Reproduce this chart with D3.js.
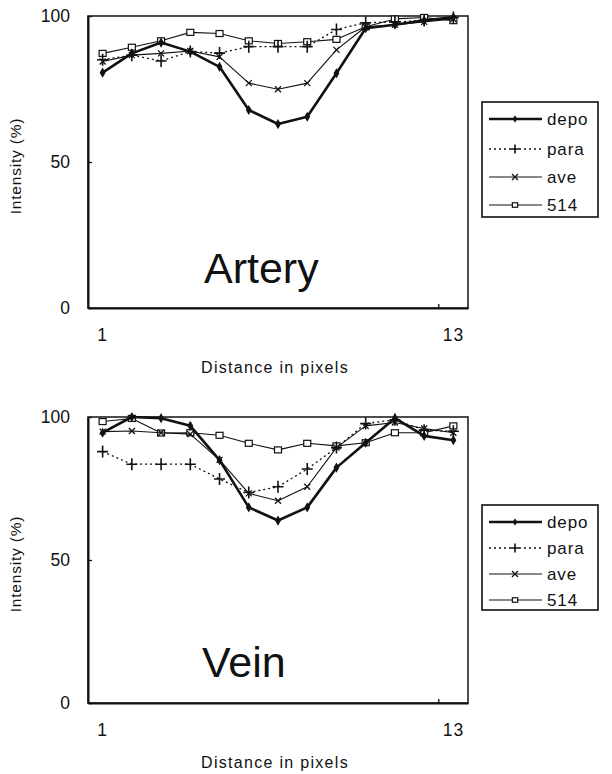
<!DOCTYPE html>
<html><head><meta charset="utf-8">
<script src="https://cdn.jsdelivr.net/npm/d3@7"></script>
<style>body{margin:0;background:#fff}svg{display:block}text{font-family:"Liberation Sans",Arial,sans-serif;fill:#111}</style>
</head><body><svg id="c" width="612" height="774"></svg>
<script>
const categories = [1,2,3,4,5,6,7,8,9,10,11,12,13];
const xTickLabels = ["1","13"];
const yTicks = [0,50,100];
const seriesNames = ["depo","para","ave","514"];

const arteryDepo = [80.6,87.2,90.9,87.8,82.6,67.8,63.0,65.5,80.4,95.8,97.0,98.5,99.6];
const arteryPara = [85.0,86.6,84.6,87.8,87.3,89.5,89.5,89.5,95.4,97.7,98.0,98.5,99.5];
const arteryAve  = [84.4,86.6,87.2,88.0,86.0,77.0,74.9,77.0,88.4,96.3,97.0,98.0,99.0];
const artery514  = [87.2,89.3,91.5,94.4,94.0,91.5,90.6,91.2,92.0,96.3,99.0,99.5,98.4];

const veinDepo = [94.5,100,99.6,96.9,84.9,68.4,63.8,68.4,82.3,91.0,99.6,93.4,91.9];
const veinPara = [87.9,83.5,83.5,83.5,78.3,73.6,75.6,81.8,89.3,97.7,99.0,95.4,95.0];
const veinAve  = [94.9,95.1,94.5,94.0,85.0,73.3,70.7,75.6,89.3,96.9,98.1,96.0,94.5];
const vein514  = [98.4,99.5,94.4,94.5,93.6,90.8,88.5,90.8,89.9,91.0,94.5,94.5,96.9];

const svg = d3.select("#c");

const styles = {
  depo: {w:2.6, dash:null, marker:"diamond"},
  para: {w:1.3, dash:"2,3", marker:"plus"},
  ave:  {w:1.1, dash:null, marker:"x"},
  "514":{w:1.1, dash:null, marker:"square"}
};

function drawMarker(g, type, x, y, small) {
  const s = small ? 0.75 : 1;
  if (type === "diamond") {
    g.append("path").attr("d", d3.symbol(d3.symbolDiamond, 30*s*s)()).attr("transform",`translate(${x},${y})`).attr("fill","#111");
  } else if (type === "plus") {
    g.append("path").attr("d",`M${x-5.5*s},${y}H${x+5.5*s}M${x},${y-6*s}V${y+6*s}`).attr("stroke","#111").attr("stroke-width",1.6);
  } else if (type === "x") {
    g.append("path").attr("d",`M${x-3},${y-3}L${x+3},${y+3}M${x-3},${y+3}L${x+3},${y-3}`).attr("stroke","#111").attr("stroke-width",1.3);
  } else if (type === "square") {
    g.append("rect").attr("x",x-3.5*s).attr("y",y-3*s).attr("width",7*s).attr("height",6*s).attr("fill","#fff").attr("stroke","#111").attr("stroke-width",1.2);
  }
}

function panel(cfg) {
  const {top, bottom, left, right, data, label, labelX, labelY, legend} = cfg;
  const g = svg.append("g");
  const x = d3.scaleBand().domain(categories).range([left,right]);
  const cx = d => x(d) + x.bandwidth()/2;
  const y = d3.scaleLinear().domain([0,100]).range([bottom, top]);

  g.append("rect").attr("x",left).attr("y",top).attr("width",right-left).attr("height",bottom-top)
    .attr("fill","none").attr("stroke","#222").attr("stroke-width",1.6);
  const ya = g.append("g").attr("transform",`translate(${left},0)`)
    .call(d3.axisLeft(y).tickValues(yTicks).tickSizeInner(-4).tickSizeOuter(0).tickPadding(18));
  ya.select(".domain").attr("stroke","#111").attr("stroke-width",2);
  ya.selectAll("line").attr("stroke","#111").attr("stroke-width",1.3);
  ya.selectAll("text").attr("font-size",17.5).attr("font-family","Liberation Sans, Arial, sans-serif").attr("fill","#222");
  const xa = g.append("g").attr("transform",`translate(0,${bottom})`)
    .call(d3.axisBottom(x).tickValues([1,13]).tickSize(0).tickPadding(21).tickFormat((d,i)=>xTickLabels[i]));
  xa.select(".domain").attr("stroke","#111").attr("stroke-width",2.2);
  xa.selectAll("text").attr("font-size",17.5).attr("font-family","Liberation Sans, Arial, sans-serif").attr("fill","#222").attr("letter-spacing",0.8);
  g.append("line").attr("x1",x(13)).attr("x2",x(13)).attr("y1",bottom).attr("y2",bottom-4).attr("stroke","#111").attr("stroke-width",1.3);

  g.append("text").attr("x",(left+right)/2-3).attr("y",bottom+65).attr("text-anchor","middle")
    .attr("font-size",16).attr("letter-spacing",1.3).text("Distance in pixels");
  g.append("text").attr("transform",`translate(21,${(top+bottom)/2 + 4}) rotate(-90)`).attr("text-anchor","middle")
    .attr("font-size",15.5).attr("letter-spacing",0.8).text("Intensity (%)");

  g.append("text").attr("x",labelX).attr("y",labelY).attr("font-size",43).text(label);

  const line = d3.line().x((d,i)=>cx(categories[i])).y(d=>y(d));
  [3,2,1,0].forEach(si => {
    const name = seriesNames[si], st = styles[name];
    g.append("path").attr("d", line(data[si])).attr("fill","none").attr("stroke","#111")
      .attr("stroke-width",st.w).attr("stroke-dasharray",st.dash).attr("stroke-linejoin","round");
    data[si].forEach((v,i)=>drawMarker(g, st.marker, cx(categories[i]), y(v)));
  });

  const lg = svg.append("g");
  lg.append("rect").attr("x",legend.x).attr("y",legend.y).attr("width",legend.w).attr("height",legend.h)
    .attr("fill","#fff").attr("stroke","#111").attr("stroke-width",1.6);
  seriesNames.forEach((name,i)=>{
    const st = styles[name];
    const ry = legend.rows[i];
    lg.append("line").attr("x1",legend.x+7).attr("x2",legend.x+60).attr("y1",ry).attr("y2",ry)
      .attr("stroke","#111").attr("stroke-width",st.w).attr("stroke-dasharray",st.dash);
    drawMarker(lg, st.marker, legend.x+33, ry, true);
    lg.append("text").attr("x",legend.x+65).attr("y",ry+6).attr("font-size",17).attr("letter-spacing",0.9).text(name);
  });
}

panel({top:16, bottom:308, left:88, right:468,
  data:[arteryDepo, arteryPara, arteryAve, artery514],
  label:"Artery", labelX:204, labelY:283,
  legend:{x:482,y:102,w:116,h:115,rows:[119,149,177,205]}});
panel({top:417, bottom:703, left:88, right:468,
  data:[veinDepo, veinPara, veinAve, vein514],
  label:"Vein", labelX:202, labelY:677,
  legend:{x:482,y:505,w:116,h:105,rows:[522,548,574,600]}});
</script></body></html>
